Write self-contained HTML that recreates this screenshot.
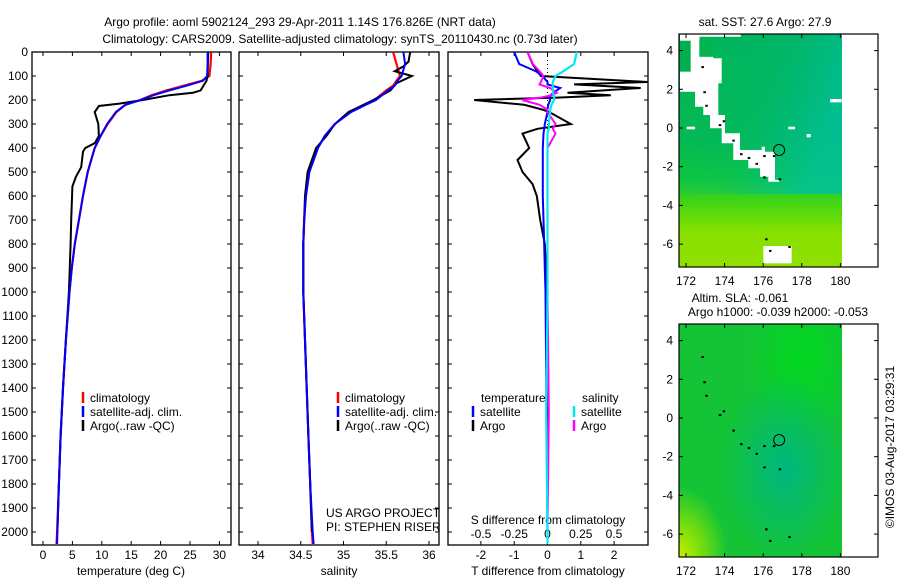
<!DOCTYPE html>
<html><head><meta charset="utf-8"><style>
html,body{margin:0;padding:0;background:#fff;}
svg{display:block;font-family:"Liberation Sans",Arial,sans-serif;}
text{font-size:12px;fill:#000;}
</style></head><body>
<svg id="fig" width="900" height="580" viewBox="0 0 900 580" xmlns="http://www.w3.org/2000/svg">
<defs>
<linearGradient id="m1v" x1="0" y1="0" x2="0" y2="1">
<stop offset="0" stop-color="#00b456"/><stop offset="0.45" stop-color="#05b84a"/><stop offset="0.62" stop-color="#10c830"/><stop offset="0.75" stop-color="#50d810"/><stop offset="0.85" stop-color="#88e000"/><stop offset="1" stop-color="#90e000"/>
</linearGradient>
<linearGradient id="m1h" x1="0" y1="0" x2="1" y2="0.4">
<stop offset="0" stop-color="#00b8a0" stop-opacity="0"/><stop offset="0.55" stop-color="#00b890" stop-opacity="0.25"/><stop offset="1" stop-color="#00c0a0" stop-opacity="0.8"/>
</linearGradient>
<radialGradient id="m2t" cx="0.65" cy="0.62" r="0.4">
<stop offset="0" stop-color="#00b880"/><stop offset="1" stop-color="#00b880" stop-opacity="0"/>
</radialGradient>
<radialGradient id="m2y" cx="0" cy="1" r="0.3">
<stop offset="0" stop-color="#c8f000"/><stop offset="0.5" stop-color="#70dc10"/><stop offset="1" stop-color="#70dc10" stop-opacity="0"/>
</radialGradient>
<radialGradient id="m2g" cx="0.75" cy="0.15" r="0.35">
<stop offset="0" stop-color="#00d820"/><stop offset="1" stop-color="#00d820" stop-opacity="0"/>
</radialGradient>
</defs>
<text x="300" y="26" text-anchor="middle">Argo profile: aoml 5902124_293 29-Apr-2011 1.14S 176.826E (NRT data)</text>
<text x="340" y="43" text-anchor="middle">Climatology: CARS2009. Satellite-adjusted climatology: synTS_20110430.nc (0.73d later)</text>
<g id="p1"></g>
<g id="p2"></g>
<g id="p3"></g>
<g id="m1"></g>
<g id="m2"></g>
<text transform="translate(894,447) rotate(-90)" text-anchor="middle">©IMOS 03-Aug-2017 03:29:31</text>
</svg>
<script>
// ---- data ----
const depthTicks = [0,100,200,300,400,500,600,700,800,900,1000,1100,1200,1300,1400,1500,1600,1700,1800,1900,2000];
const tempTicks = [0,5,10,15,20,25,30];
const salTicks = [34,34.5,35,35.5,36];
const salTickLabels = ["34","34.5","35","35.5","36"];
const tdTicks = [-2,-1,0,1,2];
const sdTicks = [-0.5,-0.25,0,0.25,0.5];
const sdTickLabels = ["-0.5","-0.25","0","0.25","0.5"];
const lonTicks = [172,174,176,178,180];
const latTicks = [4,2,0,-2,-4,-6];

const climDepth = [0,50,100,120,140,160,180,200,220,250,300,350,400,500,600,700,800,900,1000,1200,1400,1600,1800,2000,2050];
const climTemp = [28.6,28.5,28.3,27,24,21,18.5,16.5,14,12.5,11,9.8,8.8,7.6,6.8,6.1,5.4,4.9,4.5,3.9,3.4,3.0,2.7,2.4,2.3];
const satTemp  = [28.0,28.0,27.9,27.2,24.5,21.5,18.8,16.6,14,12.4,10.9,9.8,8.8,7.6,6.8,6.1,5.4,4.9,4.5,3.9,3.4,3.0,2.7,2.45,2.4];
const argoTDepth = [0,100,120,160,170,180,200,215,225,250,300,350,380,400,415,480,520,560,700,800,1000,1200,1400,1600,1800,2000];
const argoTemp   = [28.1,28.0,27.8,26.8,25.5,21.5,17,13,9.5,8.8,9.4,9.5,8.8,7.2,6.8,6.5,5.6,5.0,4.8,4.7,4.4,3.9,3.4,3.0,2.7,2.45];

const climSal = [35.58,35.62,35.66,35.62,35.58,35.5,35.43,35.37,35.25,35.08,34.9,34.78,34.7,34.6,34.56,34.54,34.53,34.53,34.53,34.55,34.57,34.59,34.61,34.63,34.64];
const satSal  = [35.7,35.72,35.68,35.63,35.6,35.52,35.45,35.38,35.26,35.09,34.9,34.78,34.7,34.6,34.56,34.54,34.53,34.53,34.53,34.55,34.57,34.59,34.61,34.64,34.65];
const argoSDepth = [0,40,60,80,100,130,160,200,250,300,350,400,500,600,800,1000,1200,1400,1600,1800,2000];
const argoSal    = [35.78,35.76,35.7,35.6,35.8,35.62,35.55,35.35,35.06,34.9,34.8,34.68,34.58,34.55,34.53,34.53,34.55,34.57,34.59,34.61,34.63];

const dDepth = [0,50,80,100,125,135,150,170,180,190,200,220,240,250,300,320,340,400,450,500,550,600,700,800,900,1000,1500,2000,2050];
const argoTDiff = [-0.6,-0.45,-0.3,-0.2,3.0,0.8,2.8,0.6,1.9,0.3,-2.2,-0.7,-0.15,0.05,0.7,-0.3,-0.75,-0.55,-0.9,-0.75,-0.45,-0.32,-0.22,-0.08,-0.04,-0.02,0,0,0];
const satTDiff  = [-1.0,-0.85,-0.35,-0.15,0,0,0.38,0.17,0.1,0.05,0.08,0.02,0,0,-0.08,-0.1,-0.12,-0.14,-0.14,-0.14,-0.14,-0.14,-0.12,-0.1,-0.08,-0.06,-0.03,0,0];
const argoSDiff = [-0.15,-0.11,-0.06,-0.03,-0.05,-0.06,0.02,0.07,0.03,-0.05,-0.19,-0.06,0,0,0.06,0.04,0.06,0,0,0,0,0,0,0,0,0,0.01,0,0];
const satSDiff  = [0.22,0.2,0.12,0.06,0.04,0.04,0.04,0.04,0.05,0.05,0.05,0.03,0.02,0.02,0.01,0.01,0,0,0,0,0,0,0,0,0,0,-0.01,0,0];

const NS="http://www.w3.org/2000/svg";
function mk(parent,tag,attrs){const e=document.createElementNS(NS,tag);for(const k in attrs)e.setAttribute(k,attrs[k]);parent.appendChild(e);return e;}
function txt(parent,x,y,s,anchor){const t=mk(parent,'text',{x:x,y:y,'text-anchor':anchor||'start'});t.textContent=s;return t;}

const TOP=52, BOT=545;
const yD = d => TOP + d*0.24;
const xT = t => 43 + t*5.88;
const xS = s => 258 + (s-34)*85.5;
const xTD = t => 547.5 + t*33.3;
const xSD = s => 547.5 + s*133;

function frame(g,x0,x1){mk(g,'rect',{x:x0,y:TOP,width:x1-x0,height:BOT-TOP,fill:'none',stroke:'#000','stroke-width':1.3});}
function line(g,xs,ds,fx,color,w,name){
  const pts=xs.map((v,i)=>fx(v).toFixed(1)+','+yD(ds[i]).toFixed(1)).join(' ');
  const p=mk(g,'polyline',{points:pts,fill:'none',stroke:color,'stroke-width':w,'stroke-linejoin':'miter'});
  
  
}
function legend(g,x,y,color,label,name){
  const l=mk(g,'line',{x1:x,y1:y-10,x2:x,y2:y+1,stroke:color,'stroke-width':2.5});
  
  
  const t=txt(g,x+7,y,label);
  
  
}

// ---- panel 1 ----
const p1=document.getElementById('p1');
frame(p1,32,231);
depthTicks.forEach(d=>{
  mk(p1,'line',{x1:32,y1:yD(d),x2:36,y2:yD(d),stroke:'#000'});
  mk(p1,'line',{x1:227,y1:yD(d),x2:231,y2:yD(d),stroke:'#000'});
  const t=txt(p1,28,yD(d)+4,String(d),'end');
  
  
});
tempTicks.forEach(v=>{
  mk(p1,'line',{x1:xT(v),y1:BOT,x2:xT(v),y2:BOT-4,stroke:'#000'});
  mk(p1,'line',{x1:xT(v),y1:TOP,x2:xT(v),y2:TOP+4,stroke:'#000'});
  const t=txt(p1,xT(v),559,String(v),'middle');
  
  
});
let at=txt(p1,131,575,'temperature (deg C)','middle');


line(p1,climTemp,climDepth,xT,'#ff0000',2.2,'climatology-temperature-line');
line(p1,argoTemp,argoTDepth,xT,'#000',2,'argo-temperature-line');
line(p1,satTemp,climDepth,xT,'#0000ff',2,'satellite-temperature-line');
legend(p1,83,402,'#ff0000','climatology','legend-climatology');
legend(p1,83,416,'#0000ff','satellite-adj. clim.','legend-satellite');
legend(p1,83,430,'#000','Argo(..raw -QC)','legend-argo');

// ---- panel 2 ----
const p2=document.getElementById('p2');
frame(p2,239,439);
depthTicks.forEach(d=>{
  mk(p2,'line',{x1:239,y1:yD(d),x2:243,y2:yD(d),stroke:'#000'});
  mk(p2,'line',{x1:435,y1:yD(d),x2:439,y2:yD(d),stroke:'#000'});
});
salTicks.forEach((v,i)=>{
  mk(p2,'line',{x1:xS(v),y1:BOT,x2:xS(v),y2:BOT-4,stroke:'#000'});
  mk(p2,'line',{x1:xS(v),y1:TOP,x2:xS(v),y2:TOP+4,stroke:'#000'});
  const t=txt(p2,xS(v),559,salTickLabels[i],'middle');
  
  
});
at=txt(p2,339,575,'salinity','middle');


line(p2,climSal,climDepth,xS,'#ff0000',2.2,'climatology-salinity-line');
line(p2,argoSal,argoSDepth,xS,'#000',2,'argo-salinity-line');
line(p2,satSal,climDepth,xS,'#0000ff',2,'satellite-salinity-line');
legend(p2,338,402,'#ff0000','climatology','legend-climatology-2');
legend(p2,338,416,'#0000ff','satellite-adj. clim.','legend-satellite-2');
legend(p2,338,430,'#000','Argo(..raw -QC)','legend-argo-2');
at=txt(p2,326,517,'US ARGO PROJECT');


at=txt(p2,326,531,'PI: STEPHEN RISER');



// ---- panel 3 ----
const p3=document.getElementById('p3');
frame(p3,448,648);
depthTicks.forEach(d=>{
  mk(p3,'line',{x1:448,y1:yD(d),x2:452,y2:yD(d),stroke:'#000'});
  mk(p3,'line',{x1:644,y1:yD(d),x2:648,y2:yD(d),stroke:'#000'});
});
mk(p3,'line',{x1:xTD(0),y1:TOP,x2:xTD(0),y2:BOT,stroke:'#000','stroke-dasharray':'1,3'});
tdTicks.forEach(v=>{
  mk(p3,'line',{x1:xTD(v),y1:BOT,x2:xTD(v),y2:BOT-4,stroke:'#000'});
  mk(p3,'line',{x1:xTD(v),y1:TOP,x2:xTD(v),y2:TOP+4,stroke:'#000'});
  const t=txt(p3,xTD(v),559,String(v),'middle');
  
  
});
sdTicks.forEach((v,i)=>{
  const t=txt(p3,xSD(v),538,sdTickLabels[i],'middle');
  
  
});
at=txt(p3,548,575,'T difference from climatology','middle');


at=txt(p3,548,524,'S difference from climatology','middle');


line(p3,argoTDiff,dDepth,xTD,'#000',2,'argo-t-diff-line');
line(p3,satTDiff,dDepth,xTD,'#0000ff',2,'satellite-t-diff-line');
line(p3,argoSDiff,dDepth,xSD,'#ff00ff',2,'argo-s-diff-line');
line(p3,satSDiff,dDepth,xSD,'#00e8f0',2.2,'satellite-s-diff-line');
at=txt(p3,481,402,'temperature');


at=txt(p3,582,402,'salinity');


legend(p3,473,416,'#0000ff','satellite','legend-t-satellite');
legend(p3,473,430,'#000','Argo','legend-t-argo');
legend(p3,574,416,'#00e8f0','satellite','legend-s-satellite');
legend(p3,574,430,'#ff00ff','Argo','legend-s-argo');

// ---- maps ----
const mxL=679, mxR=878, dataR=842;
const xLon = lon => 686 + (lon-172)*19.3;
function mapAxes(g,y0){
  const yLat = lat => y0 + 94 - lat*19.35;
  mk(g,'rect',{x:mxL,y:y0,width:mxR-mxL,height:233,fill:'none',stroke:'#000','stroke-width':1.2});
  latTicks.forEach(v=>{
    mk(g,'line',{x1:mxL,y1:yLat(v),x2:mxL+4,y2:yLat(v),stroke:'#000'});
    mk(g,'line',{x1:mxR-4,y1:yLat(v),x2:mxR,y2:yLat(v),stroke:'#000'});
    const t=txt(g,673,yLat(v)+4,String(v),'end');
    
    
  });
  lonTicks.forEach(v=>{
    mk(g,'line',{x1:xLon(v),y1:y0,x2:xLon(v),y2:y0+4,stroke:'#000'});
    mk(g,'line',{x1:xLon(v),y1:y0+233,x2:xLon(v),y2:y0+229,stroke:'#000'});
    const t=txt(g,xLon(v),y0+251,String(v),'middle');
    
    
  });
  const c=mk(g,'circle',{cx:xLon(176.826),cy:yLat(-1.14),r:5.5,fill:'none',stroke:'#000','stroke-width':1});
  
  
  return yLat;
}
const m1=document.getElementById('m1');
mk(m1,'rect',{x:mxL,y:34,width:dataR-mxL,height:233,fill:'url(#m1v)'});
mk(m1,'rect',{x:mxL,y:34,width:dataR-mxL,height:160,fill:'url(#m1h)'});
const w1=[[90,103],[272,103],[272,110],[148,110],[148,170],[190,170],[190,175],[215,175],[215,250],[205,250],[205,345],[225,345],[225,400],[270,400],[270,450],[335,450],[335,440],[345,440],[345,455],[375,455],[375,540],[388,540],[388,545],[355,545],[355,530],[330,530],[330,505],[295,505],[295,480],[250,480],[250,430],[215,430],[215,385],[180,385],[180,345],[160,345],[160,320],[135,320],[135,275],[90,275]];
const toPx = p => (650+p[0]/3).toFixed(1)+','+(p[1]/3).toFixed(1);
let wp=mk(m1,'polygon',{points:w1.map(toPx).join(' '),fill:'#fff'});


[[340,738,85,52],[540,297,35,10],[110,380,25,8],[415,380,20,8],[470,402,12,10],[122,110,26,60]].forEach(r=>{
  mk(m1,'rect',{x:650+r[0]/3,y:r[1]/3,width:r[2]/3,height:r[3]/3,fill:'#fff'});
});
mk(m1,'rect',{x:650+90/3,y:122/3,width:32/3,height:93/3,fill:'#00b050'});
mk(m1,'rect',{x:650+148/3,y:122/3,width:42/3,height:48/3,fill:'#00b450'});
mapAxes(m1,34);
const t1=txt(m1,765,26,'sat. SST: 27.6 Argo: 27.9','middle');



const m2=document.getElementById('m2');
mk(m2,'rect',{x:mxL,y:324,width:dataR-mxL,height:233,fill:'#14c436'});
mk(m2,'rect',{x:mxL,y:324,width:dataR-mxL,height:233,fill:'url(#m2g)'});
mk(m2,'rect',{x:mxL,y:324,width:dataR-mxL,height:233,fill:'url(#m2t)'});
mk(m2,'rect',{x:mxL,y:324,width:dataR-mxL,height:233,fill:'url(#m2y)'});
const yl2=mapAxes(m2,324);
// coastline specks
[[172.8,3.2],[172.9,1.9],[173.0,1.2],[173.7,0.2],[173.9,0.4],[174.4,-0.6],[174.8,-1.3],[175.2,-1.5],[175.6,-1.8],[176.0,-1.4],[176.5,-1.4],[176.0,-2.5],[176.8,-2.6],[176.1,-5.7],[176.3,-6.3],[177.3,-6.1]].forEach(p=>{
  mk(m2,'rect',{x:xLon(p[0]),y:yl2(p[1]),width:2.5,height:2,fill:'#000'});
  mk(m1,'rect',{x:xLon(p[0]),y:34+94-p[1]*19.35,width:2.5,height:2,fill:'#000'});
});
const t2=txt(m2,740,302,'Altim. SLA: -0.061','middle');


const t3=txt(m2,778,316,'Argo h1000: -0.039 h2000: -0.053','middle');


</script>
</body></html>
